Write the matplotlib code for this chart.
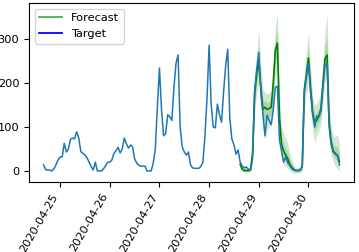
import matplotlib
matplotlib.use("Agg")
import matplotlib.pyplot as plt
import matplotlib.dates as mdates
from matplotlib.lines import Line2D
import numpy as np
import pandas as pd

# hourly target, 2020-04-24 16:00 .. 2020-04-30 15:00
target = [14, 3, 2, 2, 0, 5, 14, 25,
          32, 32, 63, 43, 50, 72, 75, 73, 89, 75, 44, 40, 36, 30, 20, 10,
          2, 20, 0, 0, 0, 5, 12, 20,
          20, 25, 40, 46, 54, 41, 50, 75, 62, 52, 59, 55, 28, 18, 13, 11,
          11, 11, 0, 0, 0, 18, 50, 146,
          234, 140, 80, 85, 128, 123, 115, 190, 245, 264, 100, 55, 43, 36, 43, 14,
          7, 6, 6, 6, 10, 20, 80, 168,
          286, 150, 100, 98, 152, 128, 111, 180, 240, 277, 120, 72, 60, 38, 48, 20,
          11, 7, 9, 4, 2, 30, 185, 230,
          270, 180, 130, 80, 127, 115, 105, 140, 190, 193, 70, 45, 20, 32, 18, 12,
          5, 2, 1, 1, 3, 9, 180, 214,
          245, 180, 130, 100, 125, 123, 135, 190, 240, 245, 100, 60, 42, 38, 36, 14]

# forecast, 2020-04-28 15:00 .. 2020-04-30 15:00
fc_median = [15, 4, 1, 1, 1, 3, 40, 175, 220,
             250, 190, 140, 145, 140, 142, 145, 200, 275, 291, 120, 60,
             45, 36, 28, 15, 8, 3, 1, 1, 2, 10, 185, 220,
             257, 190, 135, 110, 115, 125, 140, 200, 255, 264, 110, 65,
             45, 40, 35, 22]
fc_hi_outer = [25, 12, 8, 8, 8, 12, 70, 220, 270,
               325, 240, 185, 180, 175, 178, 180, 250, 330, 361, 170, 100,
               85, 75, 62, 40, 25, 12, 8, 8, 10, 25, 230, 270,
               314, 240, 175, 150, 155, 165, 180, 250, 320, 359, 160, 100,
               80, 78, 82, 60]
fc_lo_outer = [5, 0, -3, -3, -3, -2, 15, 130, 175,
               200, 145, 95, 70, 95, 100, 110, 150, 215, 230, 80, 30,
               15, 10, 5, 0, -3, -5, -5, -5, -4, 0, 140, 175,
               205, 140, 95, 64, 80, 90, 105, 150, 200, 210, 70, 35,
               20, 10, 5, 0]
fc_hi_inner = [20, 8, 4, 4, 4, 7, 55, 195, 243,
               285, 212, 160, 160, 155, 158, 160, 222, 300, 322, 142, 78,
               63, 53, 43, 26, 15, 7, 4, 4, 5, 16, 205, 242,
               283, 212, 153, 128, 133, 143, 158, 222, 285, 305, 132, 80,
               60, 56, 55, 38]
fc_lo_inner = [11, 2, -1, -1, -1, 1, 29, 155, 200,
               228, 170, 120, 115, 120, 123, 129, 178, 248, 263, 102, 47,
               32, 24, 18, 8, 3, -1, -2, -2, -1, 5, 165, 200,
               233, 168, 117, 90, 100, 110, 124, 178, 230, 240, 92, 52,
               34, 27, 22, 12]

t_target = pd.date_range("2020-04-24 16:00", periods=len(target), freq="h")
t_fc = pd.date_range("2020-04-28 15:00", periods=len(fc_median), freq="h")

plt.rcParams['font.size'] = 8.2
fig, ax = plt.subplots(figsize=(3.59, 2.52), dpi=100)

# Data Plotting
ax.fill_between(t_fc, fc_lo_outer, fc_hi_outer, color='green', alpha=0.18, linewidth=0)
ax.fill_between(t_fc, fc_lo_inner, fc_hi_inner, color='green', alpha=0.18, linewidth=0)
ax.plot(t_fc, fc_median, color='green', linewidth=1.2)
ax.plot(t_target, target, color='tab:blue', linewidth=1.1)

# Plot Setup
ax.set_ylim(-25, 382)
ax.set_xlim(pd.Timestamp("2020-04-24 09:00"), pd.Timestamp("2020-04-30 22:00"))
ax.set_yticks([0, 100, 200, 300])
ax.xaxis.set_major_locator(mdates.DayLocator())
ax.xaxis.set_major_formatter(mdates.DateFormatter("%Y-%m-%d"))
plt.setp(ax.get_xticklabels(), rotation=60, ha='right')

handles = [Line2D([0], [0], color='#4caf50', linewidth=1.3),
           Line2D([0], [0], color='blue', linewidth=1.3)]
ax.legend(handles, ['Forecast', 'Target'], loc='upper left')

fig.subplots_adjust(left=0.081, right=0.986, top=0.988, bottom=0.278)
plt.savefig("out.png", dpi=100)
plt.close()
